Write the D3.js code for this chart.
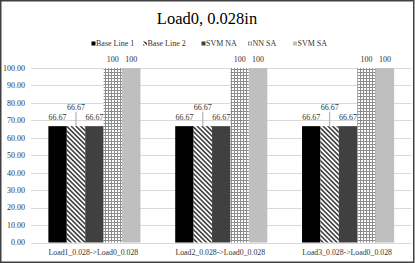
<!DOCTYPE html>
<meta charset="utf-8">
<style>
body { margin: 0; background: white; }
svg { display: block; font-family: "Liberation Serif", "Times New Roman", serif; }
.grid line { stroke: #d9d9d9; stroke-width: 1; }
.ticks text { font-size: 8px; fill: #333; }
.cats text { font-size: 7.8px; fill: #333; }
.labels text { font-size: 8px; fill: #333; }
.legend text { font-size: 8px; fill: #333; }
</style>
<svg width="415" height="263"></svg>
<script src="https://d3js.org/d3.v7.min.js"></script>
<script>

var categories = ["Load1_0.028->Load0_0.028", "Load2_0.028->Load0_0.028", "Load3_0.028->Load0_0.028"];
var series = ["Base Line 1", "Base Line 2", "SVM NA", "NN SA", "SVM SA"];
var baseLine1 = [66.67, 66.67, 66.67];
var baseLine2 = [66.67, 66.67, 66.67];
var svmNA = [66.67, 66.67, 66.67];
var nnSA = [100, 100, 100];
var svmSA = [100, 100, 100];
var labelText = ["66.67", "66.67", "66.67", "100", "100"];
var yTicks = [0, 10, 20, 30, 40, 50, 60, 70, 80, 90, 100];

var values = [baseLine1, baseLine2, svmNA, nnSA, svmSA];

var svg = d3.select("svg"),
    width = +svg.attr("width"),
    height = +svg.attr("height");

svg.append("rect")
    .attr("width", width).attr("height", height).attr("fill", "white");

// fill patterns
var defs = svg.append("defs");
var hatch = defs.append("pattern")
    .attr("id", "hatch")
    .attr("patternUnits", "userSpaceOnUse")
    .attr("width", 3.3).attr("height", 3.3)
    .attr("patternTransform", "rotate(-45)");
hatch.append("rect").attr("width", 3.3).attr("height", 3.3).attr("fill", "white");
hatch.append("rect").attr("width", 1.6).attr("height", 3.3).attr("fill", "#404040");

var grid = defs.append("pattern")
    .attr("id", "gridfill")
    .attr("patternUnits", "userSpaceOnUse")
    .attr("width", 3).attr("height", 3);
grid.append("rect").attr("width", 3).attr("height", 3).attr("fill", "white");
grid.append("rect").attr("width", 3).attr("height", 1).attr("fill", "#8c8c8c");
grid.append("rect").attr("width", 1).attr("height", 3).attr("fill", "#8c8c8c");

var fills = ["#000000", "url(#hatch)", "#404040", "url(#gridfill)", "#bfbfbf"];

var x0 = d3.scaleBand()
    .domain(categories)
    .range([31, 411.5])
    .paddingInner(0.274)
    .paddingOuter(0.137);

var x1 = d3.scaleBand()
    .domain(series)
    .range([0, x0.bandwidth()]);

var y = d3.scaleLinear()
    .domain([0, 100])
    .range([242.5, 68]);

// gridlines
svg.append("g").attr("class", "grid")
    .selectAll("line")
    .data(yTicks)
    .enter().append("line")
    .attr("x1", 31).attr("x2", 411.5)
    .attr("y1", function(d) { return Math.round(y(d)) + 0.5; })
    .attr("y2", function(d) { return Math.round(y(d)) + 0.5; });

svg.append("g").attr("class", "ticks")
    .selectAll("text")
    .data(yTicks)
    .enter().append("text")
    .attr("x", 25)
    .attr("y", function(d) { return y(d) + 2.8; })
    .attr("text-anchor", "end")
    .text(function(d) { return d3.format(".2f")(d); });

// bars
var rows = [];
series.forEach(function(s, i) {
    categories.forEach(function(c, j) {
        rows.push({ series: s, si: i, cat: c, value: values[i][j] });
    });
});

svg.append("g").attr("class", "bars")
    .selectAll("rect")
    .data(rows)
    .enter().append("rect")
    .attr("x", function(d) { return x0(d.cat) + x1(d.series); })
    .attr("y", function(d) { return y(d.value); })
    .attr("width", x1.bandwidth())
    .attr("height", function(d) { return y(0) - y(d.value); })
    .attr("fill", function(d) { return fills[d.si]; });

// leader lines for the lifted Base Line 2 labels
svg.append("g").attr("class", "leaders")
    .selectAll("line")
    .data(rows.filter(function(d) { return d.si == 1; }))
    .enter().append("line")
    .attr("x1", function(d) { return x0(d.cat) + x1(d.series) + x1.bandwidth() / 2; })
    .attr("x2", function(d) { return x0(d.cat) + x1(d.series) + x1.bandwidth() / 2; })
    .attr("y1", function(d) { return y(d.value) - 14.5; })
    .attr("y2", function(d) { return y(d.value); })
    .attr("stroke", "#a6a6a6")
    .attr("stroke-width", 1);

svg.append("g").attr("class", "labels")
    .selectAll("text")
    .data(rows)
    .enter().append("text")
    .attr("x", function(d) { return x0(d.cat) + x1(d.series) + x1.bandwidth() / 2; })
    .attr("y", function(d) { return y(d.value) - (d.si == 1 ? 16 : 6.5); })
    .attr("text-anchor", "middle")
    .text(function(d) { return labelText[d.si]; });

svg.append("g").attr("class", "cats")
    .selectAll("text")
    .data(categories)
    .enter().append("text")
    .attr("x", function(d) { return x0(d) + x0.bandwidth() / 2 - 1; })
    .attr("y", 254.5)
    .attr("text-anchor", "middle")
    .text(function(d) { return d; });

// title
svg.append("text")
    .attr("x", 207)
    .attr("y", 24)
    .attr("text-anchor", "middle")
    .attr("font-size", "16.5px")
    .attr("fill", "#000")
    .text("Load0, 0.028in");

// legend
var legendX = [91.5, 143, 201.5, 248, 293];
var legend = svg.append("g").attr("class", "legend")
    .selectAll("g")
    .data(series)
    .enter().append("g")
    .attr("transform", function(d, i) { return "translate(" + legendX[i] + ",41.5)"; });

legend.append("rect")
    .attr("width", 4).attr("height", 4)
    .attr("fill", function(d, i) { return fills[i]; });

legend.append("text")
    .attr("x", 4.5)
    .attr("y", 4.5)
    .text(function(d) { return d; });

// outer frame
svg.append("rect")
    .attr("x", 0.75).attr("y", 0.75)
    .attr("width", width - 2).attr("height", height - 1.5)
    .attr("fill", "none")
    .attr("stroke", "#404040")
    .attr("stroke-width", 1.5);

</script>
